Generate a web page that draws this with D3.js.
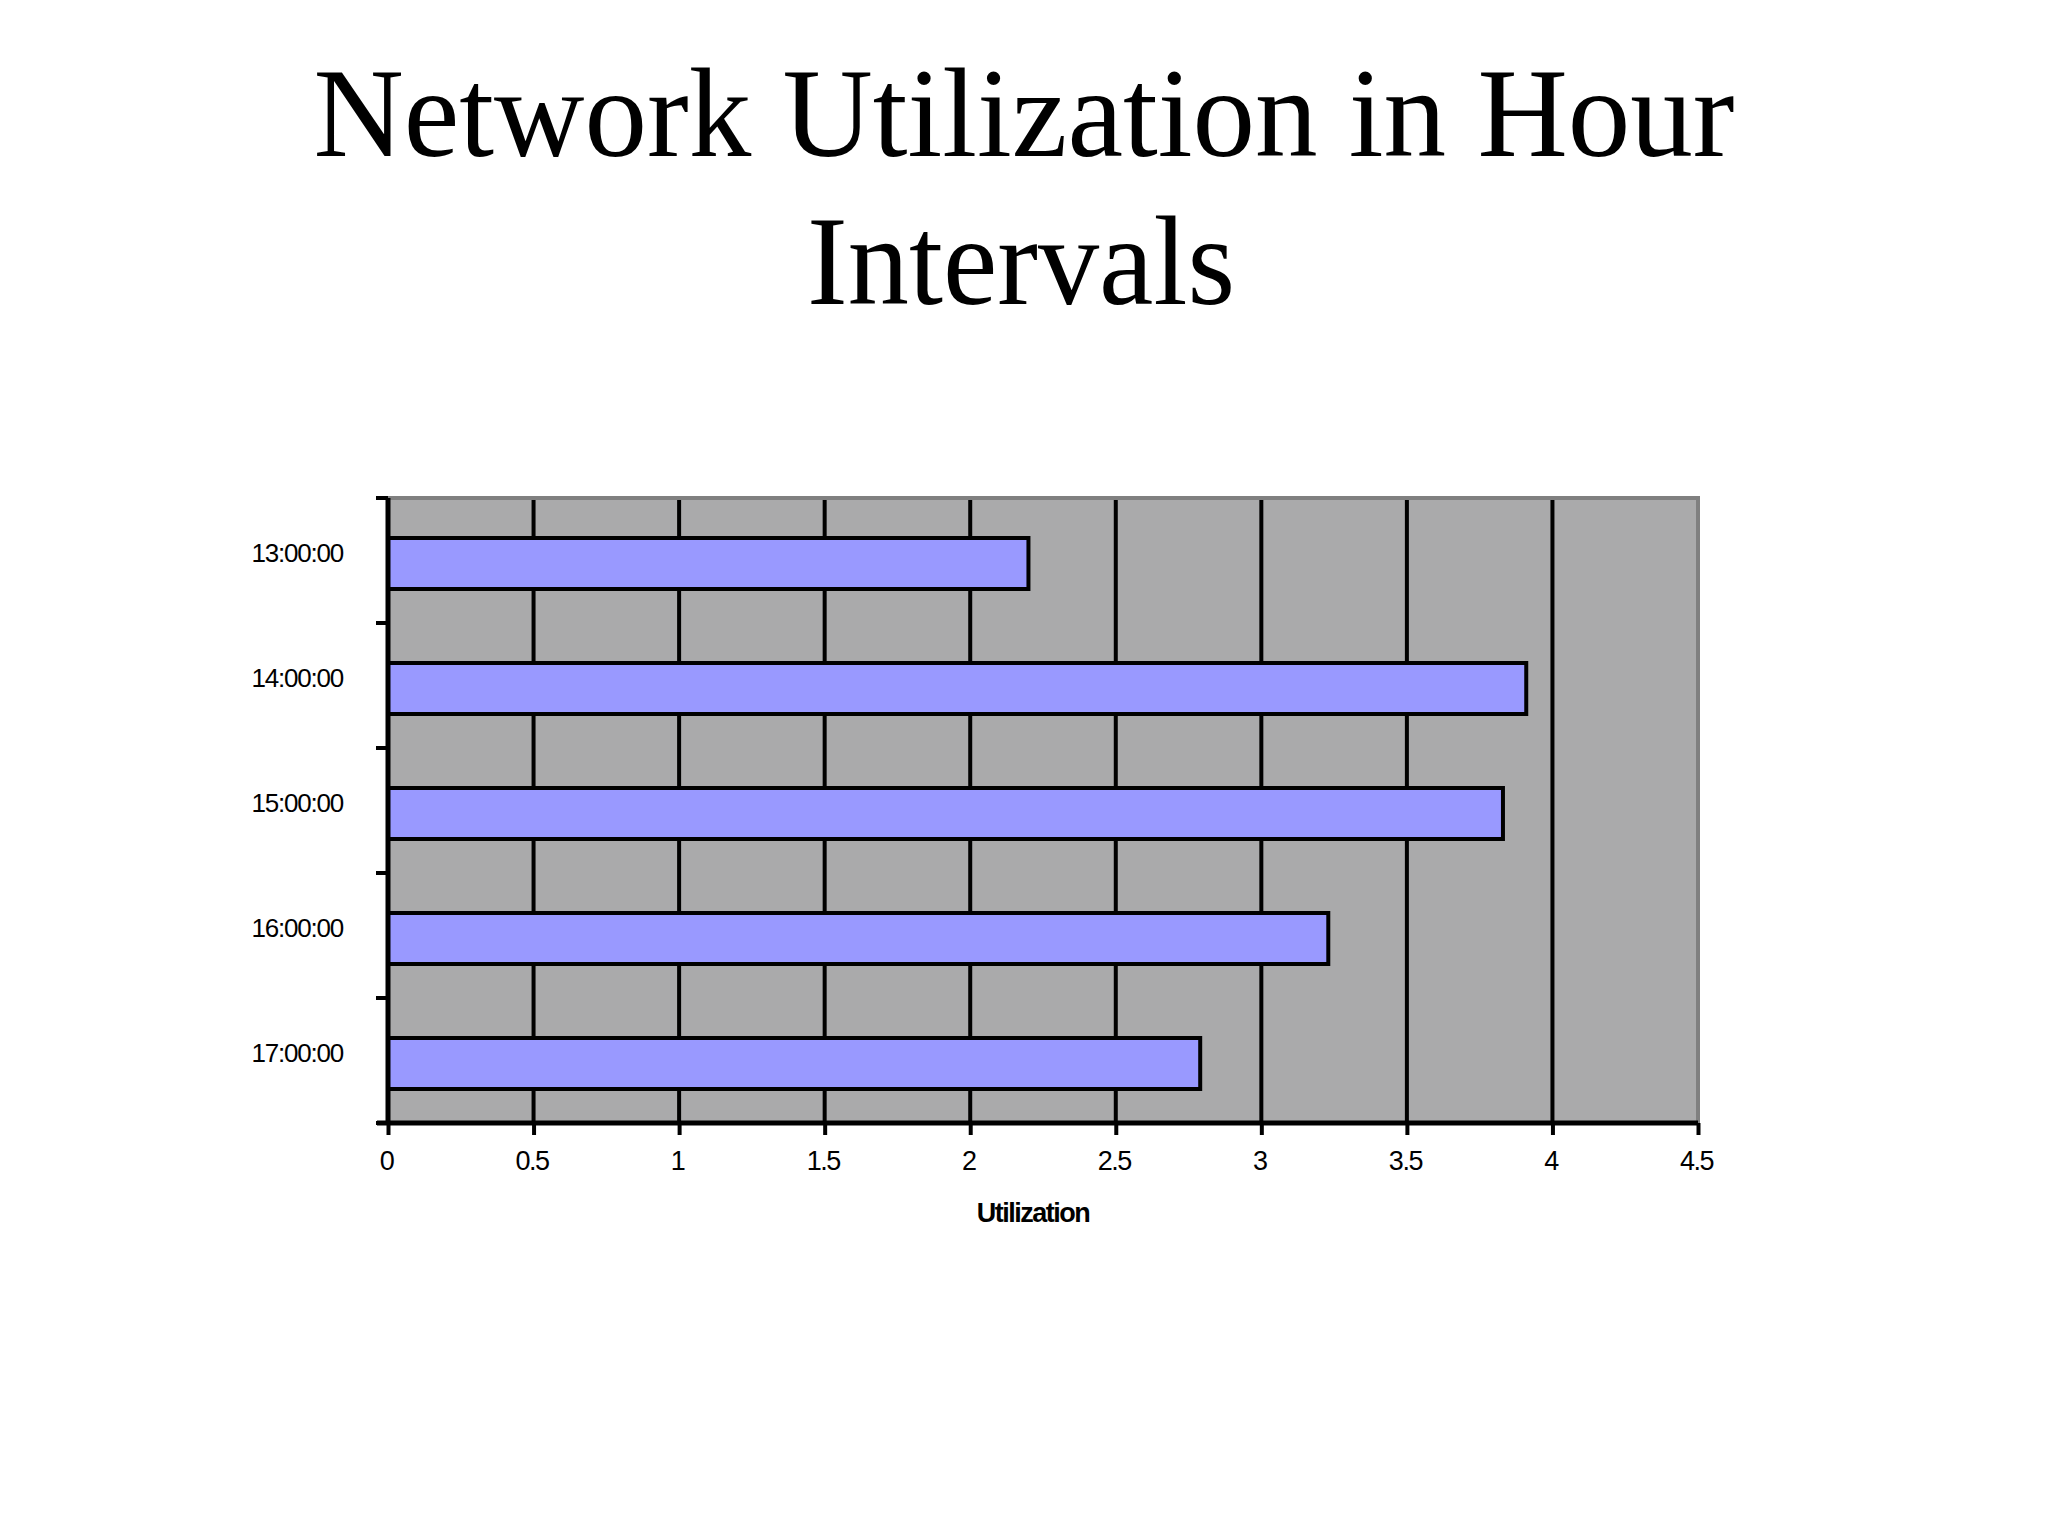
<!DOCTYPE html>
<html>
<head>
<meta charset="utf-8">
<script src="https://cdn.jsdelivr.net/npm/d3@7"></script>
<style>
  html, body { margin: 0; padding: 0; background: #ffffff; }
  svg { display: block; }
</style>
</head>
<body>
<script>
// ---- data ----
const categories = ["13:00:00", "14:00:00", "15:00:00", "16:00:00", "17:00:00"];
const utilization = [2.2, 3.91, 3.83, 3.23, 2.79];
const xTicks = [0, 0.5, 1, 1.5, 2, 2.5, 3, 3.5, 4, 4.5];
const xTickLabels = ["0", "0.5", "1", "1.5", "2", "2.5", "3", "3.5", "4", "4.5"];
const titleLines = ["Network Utilization in Hour", "Intervals"];
const xAxisTitle = "Utilization";

const W = 2048, H = 1536;
const plot = { left: 388, right: 1698, top: 498, bottom: 1123 };

const svg = d3.select("body").append("svg").attr("width", W).attr("height", H);
svg.append("rect").attr("width", W).attr("height", H).attr("fill", "#ffffff");

// title
svg.append("text").attr("x", 1024).attr("y", 156)
  .attr("text-anchor", "middle")
  .attr("font-family", "'Liberation Serif', 'Times New Roman', serif")
  .attr("font-size", 126)
  .attr("textLength", 1421).attr("lengthAdjust", "spacingAndGlyphs")
  .text(titleLines[0]);
svg.append("text").attr("x", 1021).attr("y", 304)
  .attr("text-anchor", "middle")
  .attr("font-family", "'Liberation Serif', 'Times New Roman', serif")
  .attr("font-size", 126)
  .attr("textLength", 428).attr("lengthAdjust", "spacingAndGlyphs")
  .text(titleLines[1]);

const x = d3.scaleLinear().domain([0, 4.5]).range([plot.left, plot.right]);
const y = d3.scaleBand().domain(categories).range([plot.top, plot.bottom]).padding(0);

// plot background
svg.append("rect")
  .attr("x", plot.left).attr("y", plot.top)
  .attr("width", plot.right - plot.left).attr("height", plot.bottom - plot.top)
  .attr("fill", "#aaaaab");

// gridlines
svg.append("g").selectAll("line")
  .data(xTicks.filter(t => t > 0 && t < 4.5))
  .join("line")
  .attr("x1", d => x(d)).attr("x2", d => x(d))
  .attr("y1", plot.top).attr("y2", plot.bottom)
  .attr("stroke", "#000").attr("stroke-width", 4);

// border top/right (gray)
svg.append("path")
  .attr("d", `M${plot.left},${plot.top}H${plot.right}V${plot.bottom}`)
  .attr("fill", "none").attr("stroke", "#808080").attr("stroke-width", 4);

// bars
const barOffset = 40, barH = 51;
svg.append("g").selectAll("rect")
  .data(categories.map((c, i) => ({ c, v: utilization[i] })))
  .join("rect")
  .attr("x", x(0))
  .attr("y", d => y(d.c) + barOffset)
  .attr("width", d => x(d.v) - x(0))
  .attr("height", barH)
  .attr("fill", "#9999ff")
  .attr("stroke", "#000").attr("stroke-width", 4);

// x axis
const xAxis = d3.axisBottom(x).tickValues(xTicks)
  .tickFormat((d, i) => xTickLabels[i]).tickSize(12).tickPadding(12);
const gx = svg.append("g").attr("transform", `translate(0,${plot.bottom})`).call(xAxis);
gx.select(".domain").attr("stroke", "#000").attr("stroke-width", 5)
  .attr("d", `M${plot.left - 11},0H${plot.right}`);
gx.selectAll(".tick line").attr("stroke", "#000").attr("stroke-width", 4);
gx.selectAll(".tick text")
  .attr("font-family", "'Liberation Sans', Arial, sans-serif")
  .attr("font-size", 27).attr("letter-spacing", -1.5)
  .attr("fill", "#000").attr("dy", 0).attr("y", 47).attr("dx", -2);

// y axis: ticks at category boundaries
const gy = svg.append("g");
gy.append("line")
  .attr("x1", plot.left).attr("x2", plot.left)
  .attr("y1", plot.top).attr("y2", plot.bottom)
  .attr("stroke", "#000").attr("stroke-width", 5);
const boundaries = categories.map(c => y(c)).concat([plot.bottom]);
gy.selectAll("line.tk").data(boundaries).join("line").attr("class", "tk")
  .attr("x1", plot.left - 12).attr("x2", plot.left)
  .attr("y1", d => d).attr("y2", d => d)
  .attr("stroke", "#000").attr("stroke-width", 4);
gy.selectAll("text").data(categories).join("text")
  .attr("x", 343)
  .attr("y", d => y(d) + y.bandwidth() / 2 - 8)
  .attr("text-anchor", "end")
  .attr("dominant-baseline", "central")
  .attr("font-family", "'Liberation Sans', Arial, sans-serif")
  .attr("font-size", 26).attr("letter-spacing", -1.2)
  .attr("fill", "#000")
  .text(d => d);

// x axis title
svg.append("text").attr("x", 1033).attr("y", 1222)
  .attr("text-anchor", "middle")
  .attr("font-family", "'Liberation Sans', Arial, sans-serif")
  .attr("font-weight", "bold")
  .attr("font-size", 27).attr("letter-spacing", -1.5)
  .attr("fill", "#000")
  .text(xAxisTitle);
</script>
</body>
</html>
